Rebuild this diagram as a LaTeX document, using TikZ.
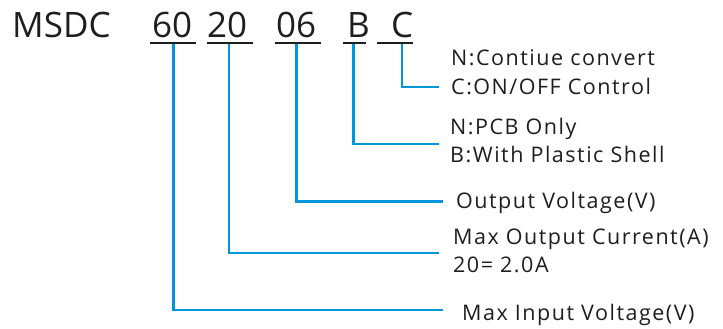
\documentclass[tikz,border=0pt]{standalone}
\usepackage{fontspec}
\setmainfont{Open Sans}
\newfontfamily\labelfont[LetterSpace=7]{Open Sans}
\definecolor{lineblue}{RGB}{0,150,220}
\definecolor{ink}{RGB}{30,30,30}
\begin{document}
\begin{tikzpicture}[x=1pt,y=-1pt,
  title/.style={anchor=base west,inner sep=0pt,font=\fontsize{35}{36}\selectfont,text=ink},
  label/.style={anchor=base west,inner sep=0pt,font=\labelfont\fontsize{21.5}{22}\selectfont,text=ink},
  under/.style={draw=ink,line width=1.2pt},
  conn/.style={draw=lineblue,line width=2.4pt}]
\useasboundingbox (0,0) rectangle (723,329);
% title
\node[title] (msdc) at (12,38) {MSDC};
\node[title] (t60) at (152,38) {60};
\node[title] (t20) at (207,38) {20};
\node[title] (t06) at (276,38) {06};
\node[title] (tB) at (347,38) {B};
\node[title] (tC) at (391,38) {C};
% underlines
\draw[under] (150,43) -- (196,43);
\draw[under] (207,43) -- (253,43);
\draw[under] (275,43) -- (321,43);
\draw[under] (343,43) -- (366,43);
\draw[under] (377,43) -- (413,43);
% connector start points
\coordinate (s60) at (173.3,43.6);
\coordinate (s20) at (229,43.6);
\coordinate (s06) at (296.5,43.6);
\coordinate (sB) at (353.3,43.6);
\coordinate (sC) at (402,43.6);
% connector end points
\coordinate (e60) at (443,309.7);
\coordinate (e20) at (439,253);
\coordinate (e06) at (442.7,201.3);
\coordinate (eB) at (439,144);
\coordinate (eC) at (439,87);
% labels
\node[label] (c1) at (451,66) {N:Contiue convert};
\node[label] (c2) at (451,94.5) {C:ON/OFF Control};
\node[label] (b1) at (450,134) {N:PCB Only};
\node[label] (b2) at (450,162) {B:With Plastic Shell};
\node[label] (ov) at (456,208) {Output Voltage(V)};
\node[label] (mc1) at (453,244) {Max Output Current(A)};
\node[label] (mc2) at (453,272) {20= 2.0A};
\node[label] (mi) at (462,320) {Max Input Voltage(V)};
% connectors
\draw[conn] (s60) |- (e60);
\draw[conn] (s20) |- (e20);
\draw[conn] (s06) |- (e06);
\draw[conn] (sB) |- (eB);
\draw[conn] (sC) |- (eC);
\end{tikzpicture}
\end{document}
